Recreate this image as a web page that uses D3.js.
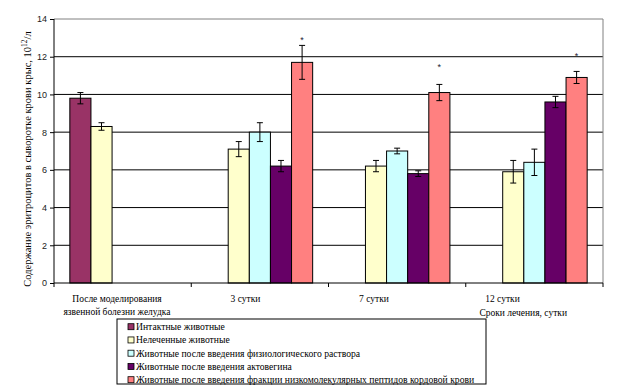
<!DOCTYPE html>
<html>
<head>
<meta charset="utf-8">
<script src="https://cdn.jsdelivr.net/npm/d3@7"></script>
<style>
body { margin: 0; background: #fff; }
svg text.serif { font-family: "Liberation Serif", "Times New Roman", serif; }
</style>
</head>
<body>
<svg id="chart" width="622" height="387"></svg>
<script>
// categories and series
var categories = ['После моделирования|язвенной болезни желудка', '3 сутки', '7 сутки', '12 сутки'];
var seriesNames = [
	'Интактные животные',
	'Нелеченные животные',
	'Животные после введения физиологического раствора',
	'Животные после введения актовегина',
	'Животные после введения фракции низкомолекулярных пептидов кордовой крови'
];
var seriesColors = ['#993366', '#FFFFCC', '#CCFFFF', '#660066', '#FF8080'];
// null = no bar in that group
var values = [
	[9.8, null, null, null],
	[8.3, 7.1, 6.2, 5.9],
	[null, 8.0, 7.0, 6.4],
	[null, 6.2, 5.8, 9.6],
	[null, 11.7, 10.1, 10.9]
];
var errors = [
	[0.3, null, null, null],
	[0.2, 0.4, 0.3, 0.6],
	[null, 0.5, 0.15, 0.7],
	[null, 0.3, 0.15, 0.3],
	[null, 0.9, 0.43, 0.32]
];
// asterisks over the last series (height in chart units)
var starLevels = [null, 13.0, 11.55, 12.15];
var yTicks = [0, 2, 4, 6, 8, 10, 12, 14];

var svg = d3.select('#chart');
var pLeft = 54, pRight = 603, pTop = 19, pBottom = 283;

var x = d3.scaleBand().domain(d3.range(categories.length)).range([pLeft, pRight]).padding(0);
// Excel style: gap width 150% -> 5 bars + 1.5 bar widths of gap
var barW = x.bandwidth() / (seriesNames.length + 1.5);
var y = d3.scaleLinear().domain([0, 14]).range([pBottom, pTop]);

// gridlines
svg.append('g').selectAll('line')
	.data(yTicks.filter(function(d){ return d > 0 && d < 14; }))
	.enter().append('line')
	.attr('x1', pLeft).attr('x2', pRight)
	.attr('y1', function(d){ return y(d); }).attr('y2', function(d){ return y(d); })
	.attr('stroke', '#000').attr('stroke-width', 1);

// plot border top / right (grey)
svg.append('path')
	.attr('d', 'M' + pLeft + ',' + y(14) + 'H' + pRight + 'V' + pBottom)
	.attr('fill', 'none').attr('stroke', '#808080').attr('stroke-width', 1);

// bars
var flat = [];
values.forEach(function(row, s){
	row.forEach(function(v, c){
		if (v != null) flat.push({s: s, c: c, v: v, e: errors[s][c]});
	});
});

var barX = function(d){ return x(d.c) + barW * 0.75 + d.s * barW; };

svg.append('g').selectAll('rect')
	.data(flat).enter().append('rect')
	.attr('x', barX)
	.attr('y', function(d){ return y(d.v); })
	.attr('width', barW)
	.attr('height', function(d){ return pBottom - y(d.v); })
	.attr('fill', function(d){ return seriesColors[d.s]; })
	.attr('stroke', '#000').attr('stroke-width', 1);

// error bars
var eb = svg.append('g').attr('stroke', '#000').attr('stroke-width', 1);
flat.forEach(function(d){
	var cx = barX(d) + barW / 2;
	eb.append('line').attr('x1', cx).attr('x2', cx).attr('y1', y(d.v + d.e)).attr('y2', y(d.v - d.e));
	eb.append('line').attr('x1', cx - 3).attr('x2', cx + 3).attr('y1', y(d.v + d.e)).attr('y2', y(d.v + d.e));
	eb.append('line').attr('x1', cx - 3).attr('x2', cx + 3).attr('y1', y(d.v - d.e)).attr('y2', y(d.v - d.e));
});

// stars
svg.append('g').selectAll('text')
	.data(starLevels.map(function(v, c){ return {c: c, v: v}; }).filter(function(d){ return d.v != null; }))
	.enter().append('text')
	.attr('x', function(d){ return x(d.c) + barW * 0.75 + 4.5 * barW; })
	.attr('y', function(d){ return y(d.v) + 5; })
	.attr('text-anchor', 'middle')
	.attr('fill', '#223')
	.style('font-family', 'Arial, "Liberation Sans", sans-serif')
	.style('font-size', '9px')
	.text('*');

// y axis
var yAxis = d3.axisLeft(y).tickValues(yTicks).tickSize(4).tickPadding(3);
var ya = svg.append('g').attr('transform', 'translate(' + pLeft + ',0)').call(yAxis);
ya.select('.domain').attr('d', 'M0,' + pTop + 'V' + pBottom).attr('stroke', '#000');
ya.selectAll('text').style('font-family', 'Arial, "Liberation Sans", sans-serif').style('font-size', '9px').attr('fill', '#222');

// x axis
var xa = svg.append('g').attr('transform', 'translate(0,' + pBottom + ')');
xa.append('line').attr('x1', pLeft).attr('x2', pRight).attr('stroke', '#000');
xa.selectAll('.tk').data(d3.range(categories.length + 1)).enter().append('line')
	.attr('x1', function(i){ return pLeft + i * x.bandwidth(); })
	.attr('x2', function(i){ return pLeft + i * x.bandwidth(); })
	.attr('y1', 0).attr('y2', 4).attr('stroke', '#000');

// category labels (Excel has them drawn slightly compressed to the left)
var xl = d3.scalePoint().domain(d3.range(categories.length)).range([117, 502.5]);
var cl = svg.append('g').selectAll('text')
	.data(categories).enter().append('text')
	.attr('class', 'serif')
	.attr('x', function(d, i){ return xl(i); })
	.attr('y', 302)
	.attr('text-anchor', 'middle')
	.style('font-size', '9.5px');
cl.each(function(d){
	var parts = d.split('|');
	var t = d3.select(this);
	parts.forEach(function(p, k){
		t.append('tspan').attr('x', t.attr('x')).attr('dy', k ? 13 : 0).text(p);
	});
});

svg.append('text')
	.attr('class', 'serif')
	.attr('x', 567).attr('y', 316)
	.attr('text-anchor', 'end')
	.style('font-size', '9.5px')
	.text('Сроки лечения, сутки');

// y title
var yt = svg.append('text')
	.attr('class', 'serif')
	.attr('transform', 'translate(31,159) rotate(-90)')
	.attr('text-anchor', 'middle')
	.style('font-size', '10.5px');
yt.append('tspan').text('Содержание эритроцитов в сыворотке крови крыс, 10');
yt.append('tspan').attr('dy', -4).style('font-size', '7.5px').text('12');
yt.append('tspan').attr('dy', 4).text('/л');

// legend
var lg = svg.append('g');
lg.append('rect').attr('x', 117).attr('y', 319).attr('width', 369).attr('height', 65)
	.attr('fill', '#fff').attr('stroke', '#000').attr('stroke-width', 1);
var items = lg.selectAll('g.item').data(seriesNames).enter().append('g')
	.attr('transform', function(d, i){ return 'translate(128,' + (326.7 + i * 13.25) + ')'; });
items.append('rect').attr('x', 0).attr('y', -3).attr('width', 6).attr('height', 6)
	.attr('fill', function(d, i){ return seriesColors[i]; })
	.attr('stroke', '#000').attr('stroke-width', 0.8);
var lt = items.append('text').attr('class', 'serif').attr('x', 8).attr('y', 3.5).style('font-size', '10px').text(function(d){ return d; });
// fit the longest legend line to the width seen in the picture (~339px)
var longest = d3.max(lt.nodes(), function(n){ return n.getComputedTextLength(); });
if (longest > 0) lt.style('font-size', (10 * 339 / longest).toFixed(2) + 'px');
</script>
</body>
</html>
